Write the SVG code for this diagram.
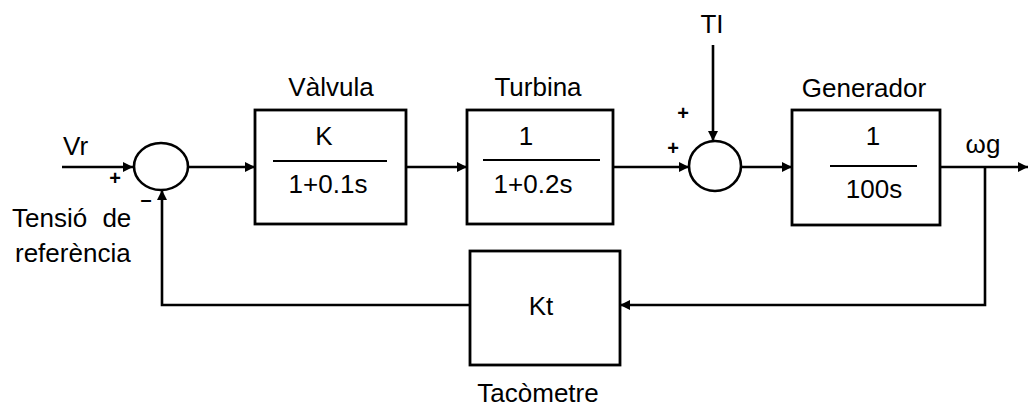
<svg xmlns="http://www.w3.org/2000/svg" width="1029" height="406" viewBox="0 0 1029 406">
<style>
  .ln{fill:none;stroke:#000;stroke-width:2.6}
  .box{fill:#fff;stroke:#000;stroke-width:2.8}
  .frac{stroke:#000;stroke-width:2.2}
  .t{font-family:"Liberation Sans",Arial,sans-serif;font-size:26px;fill:#000}
  .m{text-anchor:middle}
  .s{font-family:"Liberation Sans",Arial,sans-serif;font-size:20px;font-weight:bold;fill:#000;text-anchor:middle}
</style>
<defs>
  <marker id="ah" viewBox="0 0 10 10" refX="10" refY="5" markerWidth="10" markerHeight="10" markerUnits="userSpaceOnUse" orient="auto">
    <path d="M0,0 L10,5 L0,10 Z" fill="#000"/>
  </marker>
</defs>
<rect width="1029" height="406" fill="#fff"/>

<g id="connectors">
  <line class="ln" x1="62" y1="167" x2="133" y2="167" marker-end="url(#ah)"/>
  <line class="ln" x1="188" y1="167" x2="255" y2="167" marker-end="url(#ah)"/>
  <line class="ln" x1="406" y1="167" x2="467" y2="167" marker-end="url(#ah)"/>
  <line class="ln" x1="613" y1="167" x2="689" y2="167" marker-end="url(#ah)"/>
  <line class="ln" x1="713" y1="45" x2="713" y2="141" marker-end="url(#ah)"/>
  <line class="ln" x1="741" y1="167" x2="792" y2="167" marker-end="url(#ah)"/>
  <line class="ln" x1="940" y1="167" x2="1028" y2="167" marker-end="url(#ah)"/>
  <polyline class="ln" points="985,167 985,305 620,305" marker-end="url(#ah)"/>
  <polyline class="ln" points="470,305 162,305 162,190" marker-end="url(#ah)"/>
</g>

<g id="sum1">
  <ellipse class="ln" cx="161" cy="166.5" rx="27" ry="23.5"/>
  <text class="s" x="115" y="185">+</text>
  <text class="s" x="146" y="206">–</text>
</g>

<g id="input">
  <text class="t" x="63" y="155">Vr</text>
  <text class="t" x="12" y="227" word-spacing="8">Tensió de</text>
  <text class="t" x="15" y="262">referència</text>
</g>

<g id="valvula">
  <text class="t m" x="331" y="96">Vàlvula</text>
  <rect class="box" x="255" y="110" width="151" height="114"/>
  <text class="t m" x="324" y="145">K</text>
  <line class="frac" x1="273" y1="161" x2="387" y2="161"/>
  <text class="t m" x="328" y="193">1+0.1s</text>
</g>

<g id="turbina">
  <text class="t m" x="538" y="96">Turbina</text>
  <rect class="box" x="467" y="110" width="146" height="114"/>
  <text class="t m" x="526" y="145">1</text>
  <line class="frac" x1="483" y1="160" x2="600" y2="160"/>
  <text class="t m" x="533" y="193">1+0.2s</text>
</g>

<g id="sum2">
  <ellipse class="ln" cx="715" cy="166" rx="26" ry="25"/>
  <text class="s" x="683" y="120">+</text>
  <text class="s" x="673" y="155">+</text>
  <text class="t m" x="712" y="33">TI</text>
</g>

<g id="generador">
  <text class="t m" x="864" y="97">Generador</text>
  <rect class="box" x="792" y="110" width="148" height="115"/>
  <text class="t m" x="873" y="145">1</text>
  <line class="frac" x1="830" y1="166" x2="917" y2="166"/>
  <text class="t m" x="874" y="198">100s</text>
  <text class="t m" x="983" y="153">ωg</text>
</g>

<g id="tacometre">
  <rect class="box" x="470" y="251" width="150" height="114"/>
  <text class="t m" x="541" y="315">Kt</text>
  <text class="t m" x="538" y="402">Tacòmetre</text>
</g>
</svg>
